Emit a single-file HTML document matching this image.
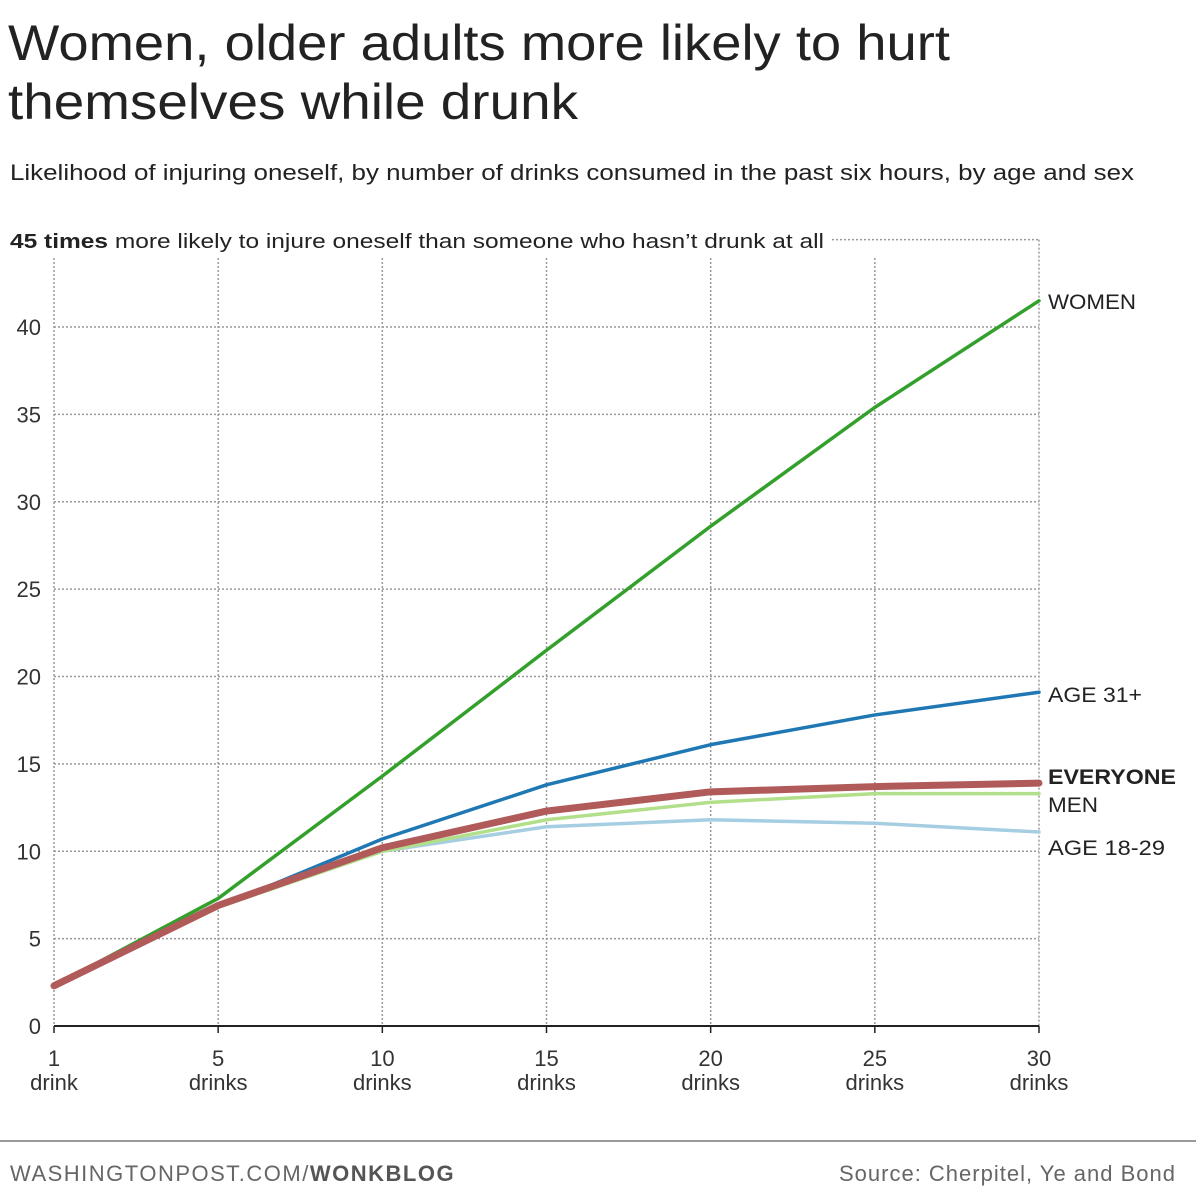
<!DOCTYPE html>
<html><head><meta charset="utf-8"><style>
html,body{margin:0;padding:0;background:#fff;}
svg{display:block;font-family:"Liberation Sans",sans-serif;}
</style></head><body>
<svg id="chart" width="1196" height="1200" viewBox="0 0 1196 1200">
<text x="8" y="60" font-size="50" fill="#222" textLength="942" lengthAdjust="spacingAndGlyphs">Women, older adults more likely to hurt</text>
<text x="8" y="119" font-size="50" fill="#222" textLength="570" lengthAdjust="spacingAndGlyphs">themselves while drunk</text>
<text x="10" y="180" font-size="22" fill="#222" textLength="1124" lengthAdjust="spacingAndGlyphs">Likelihood of injuring oneself, by number of drinks consumed in the past six hours, by age and sex</text>
<text x="10" y="248" font-size="20" fill="#222" textLength="814" lengthAdjust="spacingAndGlyphs"><tspan font-weight="bold">45 times</tspan> more likely to injure oneself than someone who hasn’t drunk at all</text>
<g id="grid"></g>
<g id="lines"></g>
<g id="labels"></g>
<line x1="0" y1="1141" x2="1196" y2="1141" stroke="#999" stroke-width="2"/>
<text x="10" y="1181" font-size="22" fill="#666" letter-spacing="1.5">WASHINGTONPOST.COM/<tspan font-weight="bold" fill="#555">WONKBLOG</tspan></text>
<text x="1176" y="1181" font-size="22" fill="#666" text-anchor="end" letter-spacing="1">Source: Cherpitel, Ye and Bond</text>
</svg>
<script>
const categories = ["1","5","10","15","20","25","30"];
const catSub = ["drink","drinks","drinks","drinks","drinks","drinks","drinks"];
const yTicks = [0,5,10,15,20,25,30,35,40];
const women = [2.3,7.3,14.3,21.5,28.6,35.4,41.5];
const age31 = [2.3,6.8,10.7,13.8,16.1,17.8,19.1];
const men = [2.3,6.8,10.0,11.8,12.8,13.3,13.3];
const age1829 = [2.3,6.9,10.0,11.4,11.8,11.6,11.1];
const everyone = [2.3,6.9,10.2,12.3,13.4,13.7,13.9];

const NS="http://www.w3.org/2000/svg";
const x0=54,x1=1039,y0=1026,yTop=258;
const xs=i=>x0+i*(x1-x0)/(categories.length-1);
const ys=v=>y0-v*(1026-327)/40;
function mk(tag,attrs,parent){const e=document.createElementNS(NS,tag);for(const k in attrs)e.setAttribute(k,attrs[k]);parent.appendChild(e);return e;}
const grid=document.getElementById('grid'),lines=document.getElementById('lines'),labels=document.getElementById('labels');
yTicks.forEach(t=>{
  if(t>0){const l=mk('line',{x1:x0,x2:x1,y1:ys(t),y2:ys(t),stroke:'#999','stroke-width':1.5,'stroke-dasharray':'2,2'},grid);
  
  }
  const tx=mk('text',{x:41,y:ys(t)+8,'font-size':22,fill:'#333','text-anchor':'end'},labels);tx.textContent=t;
  
  
});
const topLine=mk('line',{x1:832,x2:x1,y1:ys(45),y2:ys(45),stroke:'#999','stroke-width':1.5,'stroke-dasharray':'2,2'},grid);


categories.forEach((c,i)=>{
  const l=mk('line',{x1:xs(i),x2:xs(i),y1:(i===categories.length-1?ys(45):yTop),y2:y0,stroke:'#999','stroke-width':1.5,'stroke-dasharray':'2,2'},grid);
  
  
  const tk=mk('line',{x1:xs(i),x2:xs(i),y1:y0,y2:y0+7,stroke:'#222','stroke-width':1.5},grid);
  
  
  const t=mk('text',{x:xs(i),y:1066,'font-size':22,fill:'#333','text-anchor':'middle'},labels);t.textContent=c;
  
  
  const t2=mk('text',{x:xs(i),y:1090,'font-size':22,fill:'#333','text-anchor':'middle'},labels);t2.textContent=catSub[i];
  
  
});
const base=mk('line',{x1:x0,x2:x1,y1:y0,y2:y0,stroke:'#222','stroke-width':2},grid);


const series=[
  {n:'age-18-29',d:age1829,c:'#a6cee3',w:3.5,label:'AGE 18-29',ly:855,b:false,tl:117},
  {n:'men',d:men,c:'#b2df8a',w:3.5,label:'MEN',ly:812,b:false,tl:50},
  {n:'age-31-plus',d:age31,c:'#1f78b4',w:3.5,label:'AGE 31+',ly:702,b:false,tl:94},
  {n:'women',d:women,c:'#33a02c',w:3.5,label:'WOMEN',ly:309,b:false,tl:88},
  {n:'everyone',d:everyone,c:'#b05a5a',w:7,label:'EVERYONE',ly:784,b:true,tl:128}
];
series.forEach(s=>{
  const p=mk('polyline',{points:s.d.map((v,i)=>xs(i)+','+ys(v)).join(' '),fill:'none',stroke:s.c,'stroke-width':s.w,'stroke-linejoin':'round','stroke-linecap':'round'},lines);
  
  
  const t=mk('text',{x:1048,y:s.ly,'font-size':21,fill:'#222','font-weight':s.b?'bold':'normal',textLength:s.tl,lengthAdjust:'spacingAndGlyphs'},labels);t.textContent=s.label;
  
  
});
</script>
</body></html>
